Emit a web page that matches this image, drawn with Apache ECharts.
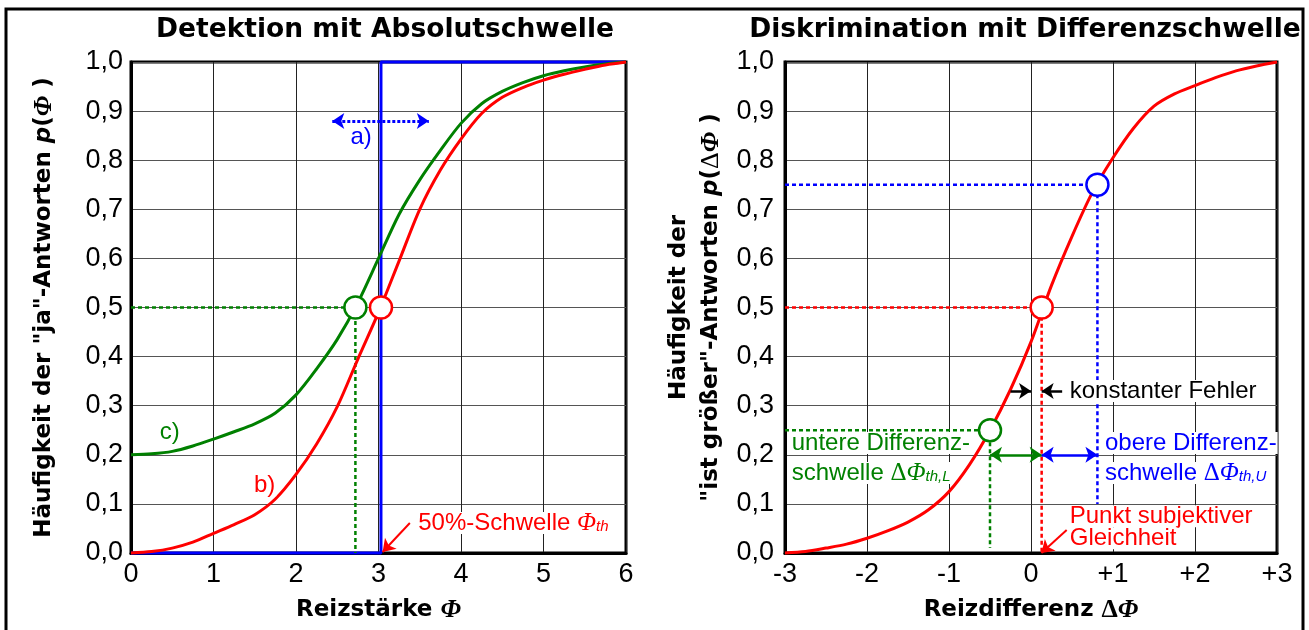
<!DOCTYPE html>
<html>
<head>
<meta charset="utf-8">
<script src="https://cdn.jsdelivr.net/npm/echarts@6/dist/echarts.min.js"></script>
<style>
  html, body { margin: 0; padding: 0; background: #fff; }
  #chart { width: 1309px; height: 630px; }
</style>
</head>
<body>
<div id="chart"></div>
<script>
// Detektion: Reizstaerke und Haeufigkeit der "ja"-Antworten
const phi = [0, 0.25, 0.5, 0.75, 1.0, 1.25, 1.5, 1.75, 2.0, 2.25, 2.5, 2.75, 3.0,
  3.25, 3.5, 3.75, 4.0, 4.25, 4.5, 4.75, 5.0, 5.25, 5.5, 5.75, 6.0];
const pB = [0, 0.003, 0.01, 0.022, 0.04, 0.058, 0.078, 0.11, 0.16, 0.222, 0.298, 0.395, 0.49,
  0.595, 0.70, 0.78, 0.843, 0.895, 0.928, 0.948, 0.963, 0.975, 0.985, 0.994, 1.0];
const pC = [0.20, 0.202, 0.207, 0.218, 0.232, 0.247, 0.263, 0.285, 0.322, 0.375, 0.435, 0.51, 0.60,
  0.69, 0.76, 0.82, 0.875, 0.915, 0.94, 0.958, 0.972, 0.982, 0.99, 0.996, 1.0];
const phiA = [0, 3.03, 3.03, 6];
const pA = [0, 0, 1, 1];
const thB = 3.03, thC = 2.72;

// Diskrimination: Reizdifferenz und "ist groesser"-Antworten
const dPhi = [-3, -2.75, -2.5, -2.25, -2.0, -1.75, -1.5, -1.25, -1.0, -0.75, -0.5, -0.25, 0,
  0.25, 0.5, 0.75, 1.0, 1.25, 1.5, 1.75, 2.0, 2.25, 2.5, 2.75, 3.0];
const pD = [0, 0.003, 0.01, 0.018, 0.03, 0.045, 0.063, 0.088, 0.125, 0.18, 0.25, 0.333, 0.43,
  0.545, 0.645, 0.735, 0.805, 0.865, 0.91, 0.935, 0.952, 0.968, 0.982, 0.992, 1.0];
const thL = -0.5, pse = 0.13, thU = 0.81;

const yTicks = ['0,0','0,1','0,2','0,3','0,4','0,5','0,6','0,7','0,8','0,9','1,0'];
const xTicksR = ['-3','-2','-1','0','+1','+2','+3'];

const RED = '#ff0000', GREEN = '#008000', BLUE = '#0000ff';
const pairs = (xs, ys) => xs.map((x, i) => [x, ys[i]]);

const chart = echarts.init(document.getElementById('chart'));

function yAxis(grid, gap, name, margin) {
  return {
    type: 'value', gridIndex: grid, min: 0, max: 1, interval: 0.1,
    axisLine: { show: true, onZero: false, lineStyle: { color: '#000', width: 3 } },
    axisTick: { show: false },
    splitLine: { lineStyle: { color: '#555', width: 1 } },
    axisLabel: {
      margin: margin, color: '#000', fontSize: 27, fontFamily: 'Liberation Sans',
      formatter: v => yTicks[Math.round(v * 10)]
    },
    name: name, nameLocation: 'middle', nameGap: gap,
    nameTextStyle: {
      color: '#000', lineHeight: 32,
      rich: {
        t: { fontFamily: 'DejaVu Sans', fontWeight: 'bold', fontSize: 23, color: '#000' },
        i: { fontFamily: 'DejaVu Sans', fontWeight: 'bold', fontStyle: 'italic', fontSize: 23, color: '#000' },
        g: { fontFamily: 'Liberation Serif', fontWeight: 'bold', fontStyle: 'italic', fontSize: 26, color: '#000' },
        d: { fontFamily: 'Liberation Serif', fontSize: 26, color: '#000' }
      }
    }
  };
}

function xAxis(grid, min, max, fmt, name) {
  return {
    type: 'value', gridIndex: grid, min: min, max: max, interval: 1,
    axisLine: { show: true, onZero: false, lineStyle: { color: '#000', width: 3 } },
    axisTick: { show: false },
    splitLine: { lineStyle: { color: '#222', width: 1 } },
    axisLabel: { margin: 8, color: '#000', fontSize: 27, fontFamily: 'Liberation Sans', formatter: fmt },
    name: name, nameLocation: 'middle', nameGap: 44,
    nameTextStyle: {
      rich: {
        t: { fontFamily: 'DejaVu Sans', fontWeight: 'bold', fontSize: 23, color: '#000' },
        g: { fontFamily: 'Liberation Serif', fontWeight: 'bold', fontStyle: 'italic', fontSize: 26, color: '#000' },
        d: { fontFamily: 'Liberation Serif', fontWeight: 'bold', fontSize: 26, color: '#000' }
      }
    }
  };
}

function curve(grid, data, color) {
  return {
    type: 'line', xAxisIndex: grid, yAxisIndex: grid, data: data,
    smooth: 0.3, showSymbol: false, clip: false, z: 4,
    lineStyle: { color: color, width: 3 }, silent: true
  };
}

function dashed(grid, data, color) {
  return {
    type: 'line', xAxisIndex: grid, yAxisIndex: grid, data: data,
    showSymbol: false, z: 3, silent: true,
    lineStyle: { color: color, width: 2.5, type: [4, 3] }
  };
}

function ring(grid, pt, color) {
  return {
    type: 'scatter', xAxisIndex: grid, yAxisIndex: grid, data: [pt],
    symbol: 'circle', symbolSize: 22, z: 6, silent: true,
    itemStyle: { color: '#fff', borderColor: color, borderWidth: 2.5, opacity: 1 }
  };
}

function arrows(grid, lines, color, width, type, ends) {
  return {
    type: 'line', xAxisIndex: grid, yAxisIndex: grid, data: [], z: 5,
    markLine: {
      silent: true, animation: false, symbol: ends, symbolSize: 12,
      label: { show: false },
      lineStyle: { color: color, width: width, type: type },
      emphasis: { disabled: true },
      data: lines.map(l => [{ coord: l[0] }, { coord: l[1] }])
    }
  };
}

chart.setOption({
  animation: false,
  title: [
    { text: 'Detektion mit Absolutschwelle', left: 380, top: 12, textAlign: 'center',
      textStyle: { fontFamily: 'DejaVu Sans', fontWeight: 'bold', fontSize: 26.5, color: '#000' } },
    { text: 'Diskrimination mit Differenzschwelle', left: 1020, top: 12, textAlign: 'center',
      textStyle: { fontFamily: 'DejaVu Sans', fontWeight: 'bold', fontSize: 26.5, color: '#000' } }
  ],
  grid: [
    { left: 131, top: 62, width: 495, height: 491, show: true, borderColor: '#000', borderWidth: 3 },
    { left: 785, top: 62, width: 492, height: 491, show: true, borderColor: '#000', borderWidth: 3 }
  ],
  xAxis: [
    xAxis(0, 0, 6, v => String(v), '{t|Reizstärke }{g|Φ}'),
    xAxis(1, -3, 3, v => xTicksR[v + 3], '{t|Reizdifferenz }{d|Δ}{g|Φ}')
  ],
  yAxis: [
    yAxis(0, 71, '{t|Häufigkeit der "ja"-Antworten }{i|p}{t|(}{g|Φ}{t| )}', 8),
    yAxis(1, 58, '{t|Häufigkeit der}\n{t|"ist größer"-Antworten }{i|p}{t|(}{d|Δ}{g|Φ}{t| )}', 11)
  ],
  series: [
    // links
    { type: 'line', xAxisIndex: 0, yAxisIndex: 0, data: pairs(phiA, pA), showSymbol: false,
      clip: false, z: 3, silent: true, lineStyle: { color: BLUE, width: 3 } },
    dashed(0, [[0, 0.5], [thC, 0.5], [thC, 0]], GREEN),
    curve(0, pairs(phi, pC), GREEN),
    curve(0, pairs(phi, pB), RED),
    ring(0, [thC, 0.5], GREEN),
    ring(0, [thB, 0.5], RED),
    arrows(0, [[[2.44, 0.88], [3.61, 0.88]]], BLUE, 3, [3, 2], ['arrow', 'arrow']),
    arrows(0, [[[3.38, 0.061], [3.05, 0.002]]], RED, 2, 'solid', ['none', 'arrow']),
    // rechts
    dashed(1, [[-3, 0.75], [thU, 0.75], [thU, 0.1]], BLUE),
    dashed(1, [[-3, 0.5], [pse, 0.5], [pse, 0]], RED),
    dashed(1, [[-3, 0.25], [thL, 0.25], [thL, 0.01]], GREEN),
    curve(1, pairs(dPhi, pD), RED),
    ring(1, [thL, 0.25], GREEN),
    ring(1, [pse, 0.5], RED),
    ring(1, [thU, 0.75], BLUE),
    arrows(1, [[[thL, 0.2], [pse, 0.2]]], GREEN, 2.5, 'solid', ['arrow', 'arrow']),
    arrows(1, [[[pse, 0.2], [thU, 0.2]]], BLUE, 2.5, 'solid', ['arrow', 'arrow']),
    arrows(1, [[[-0.25, 0.33], [0, 0.33]], [[0.38, 0.33], [pse, 0.33]]], '#000', 2.5, 'solid', ['none', 'arrow']),
    arrows(1, [[[0.435, 0.047], [0.127, 0.0]]], RED, 2, 'solid', ['none', 'arrow'])
  ]
});

// Beschriftungen im Diagramm
const notes = [
  { g: 0, at: [2.79, 0.847], text: '{n|a)}', color: BLUE, align: 'center' },
  { g: 0, at: [0.47, 0.246], text: '{n|c)}', color: GREEN, align: 'center' },
  { g: 0, at: [1.62, 0.138], text: '{n|b)}', color: RED, align: 'center' },
  { g: 0, at: [3.47, 0.061], text: '{n|50%-Schwelle }{i|Φ}{s|th}', color: RED, align: 'left' },
  { g: 1, at: [0.46, 0.33], text: '{n|konstanter Fehler}', color: '#000', align: 'left' },
  { g: 1, at: [-2.93, 0.224], text: '{n|untere Differenz-}', color: GREEN, align: 'left' },
  { g: 1, at: [-2.93, 0.163], text: '{n|schwelle }{d|Δ}{i|Φ}{s|th,L}', color: GREEN, align: 'left' },
  { g: 1, at: [0.89, 0.224], text: '{n|obere Differenz-}', color: BLUE, align: 'left' },
  { g: 1, at: [0.89, 0.163], text: '{n|schwelle }{d|Δ}{i|Φ}{s|th,U}', color: BLUE, align: 'left' },
  { g: 1, at: [0.46, 0.075], text: '{n|Punkt subjektiver}', color: RED, align: 'left' },
  { g: 1, at: [0.46, 0.03], text: '{n|Gleichheit}', color: RED, align: 'left' }
];

const graphics = [
  { type: 'rect', shape: { x: 6, y: 9, width: 1297, height: 640 },
    style: { fill: 'none', stroke: '#000', lineWidth: 3 }, silent: true, z: 20 }
];
notes.forEach(n => {
  const p = chart.convertToPixel({ gridIndex: n.g }, n.at);
  graphics.push({
    type: 'text', x: p[0], y: p[1], z: 10, silent: true,
    style: {
      text: n.text, align: n.align, verticalAlign: 'middle', fill: n.color,
      backgroundColor: '#fff', padding: [0, 1],
      rich: {
        n: { fontFamily: 'Liberation Sans', fontSize: 24, lineHeight: 22, fill: n.color, verticalAlign: 'middle' },
        d: { fontFamily: 'Liberation Serif', fontSize: 25, lineHeight: 22, fill: n.color, verticalAlign: 'middle' },
        i: { fontFamily: 'Liberation Serif', fontStyle: 'italic', fontSize: 25, lineHeight: 22, fill: n.color, verticalAlign: 'middle' },
        s: { fontFamily: 'Liberation Sans', fontStyle: 'italic', fontSize: 15, lineHeight: 8, fill: n.color, verticalAlign: 'bottom' }
      }
    }
  });
});

chart.setOption({ graphic: graphics });
</script>
</body>
</html>
